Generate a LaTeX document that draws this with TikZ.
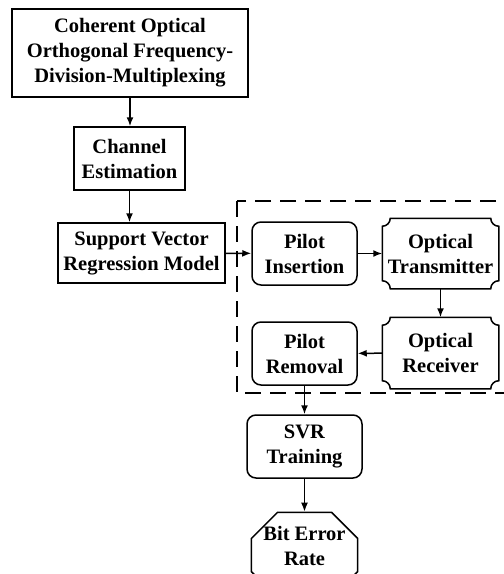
\documentclass[tikz,border=0pt]{standalone}
\usepackage{fontspec}
\setmainfont{Liberation Serif}
\usetikzlibrary{arrows.meta,shapes}
\tikzstyle{block}=[draw,line width=1.5pt,align=center,inner sep=0pt,font=\fontsize{20.5}{25}\selectfont\bfseries]
\tikzstyle{roundblock}=[block,rounded corners=9pt]
\tikzstyle{notchblock}=[block,draw=none]
\tikzstyle{cutblock}=[block,chamfered rectangle,chamfered rectangle xsep=12pt,chamfered rectangle ysep=14pt]
\tikzstyle{flow} = [draw,line width=1.5pt,-{Latex[length=9pt,width=7pt]}]
% outline with inward (concave) rounded corners
\newcommand{\notchframe}[1]{%
  \draw[line width=1.5pt] ([xshift=8pt]#1.north west) -- ([xshift=-8pt]#1.north east)
    arc (180:270:8pt) -- ([yshift=8pt]#1.south east)
    arc (90:180:8pt) -- ([xshift=8pt]#1.south west)
    arc (0:90:8pt) -- ([yshift=-8pt]#1.north west)
    arc (270:360:8pt) -- cycle;}
\begin{document}
\begin{tikzpicture}[x=1pt,y=1pt]
    \clip (0,0) rectangle (504,-574);
    \fill[white] (0,0) rectangle (504,-574);
    % left column of plain boxes
    \node[block,minimum width=236pt,minimum height=88pt] (coofdm) at (130,-53)
        {Coherent Optical\\Orthogonal Frequency-\\Division-Multiplexing};
    \node[block,minimum width=111pt,minimum height=63pt] (chest) at (129.5,-158.5)
        {Channel\\Estimation};
    \node[block,minimum width=167pt,minimum height=60pt] (svrmodel) at (141.5,-253)
        {Support Vector\\Regression Model};
    % pilot loop
    \node[roundblock,minimum width=105pt,minimum height=63pt] (pilotins) at (304.5,-253.5)
        {Pilot\\Insertion};
    \node[notchblock,minimum width=115pt,minimum height=69pt] (opttx) at (440.5,-253.5)
        {Optical\\Transmitter};
    \node[notchblock,minimum width=115pt,minimum height=70pt] (optrx) at (440.5,-353)
        {Optical\\Receiver};
    \node[roundblock,minimum width=105pt,minimum height=63pt] (pilotrem) at (304.5,-353.5)
        {Pilot\\Removal};
    \notchframe{opttx}
    \notchframe{optrx}
    \draw[line width=1.5pt,dash pattern=on 16pt off 9pt] (237,-201) rectangle (512,-393);
    % training and result (box runs off the bottom)
    \node[roundblock,minimum width=115pt,minimum height=63pt] (svrtrain) at (304.5,-446.5)
        {SVR\\Training};
    \node[cutblock,minimum width=105pt,minimum height=84pt,text depth=18pt] (ber) at (304.5,-555)
        {Bit Error\\Rate};
    % Connect the blocks
    \foreach \source/\dest in {coofdm/chest, chest/svrmodel, pilotrem/svrtrain, svrtrain/ber}
        \path[flow] (\source.south) -- (\source.south |- \dest.north);
    \foreach \source/\dest in {svrmodel/pilotins, pilotins/opttx, opttx/optrx, optrx/pilotrem}
        \path[flow] (\source) -- (\dest);
\end{tikzpicture}
\end{document}
